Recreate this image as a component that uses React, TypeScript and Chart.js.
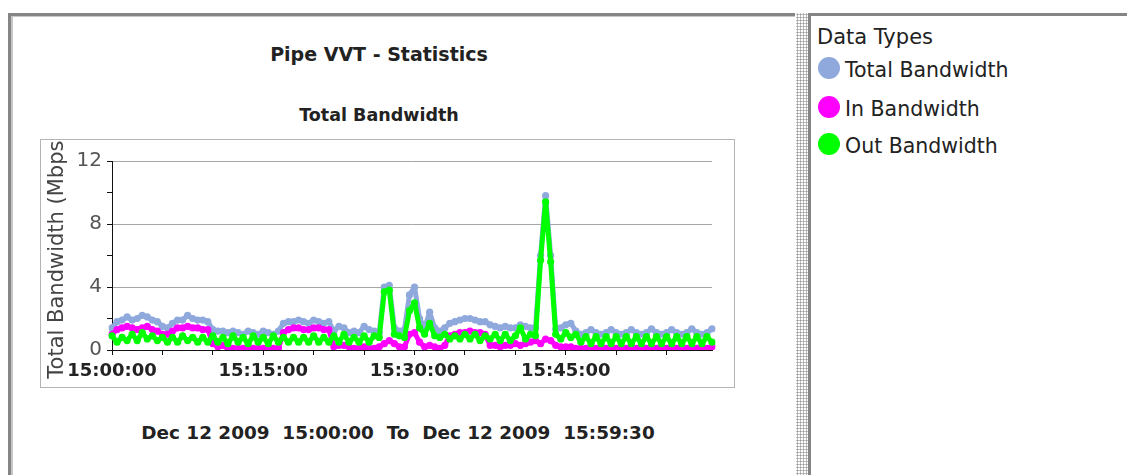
import React, { useEffect, useRef } from 'react';
import { Chart, registerables } from 'chart.js';

Chart.register(...registerables);

const FONT = "'DejaVu Sans', Verdana, sans-serif";

const chartTitle = 'Pipe VVT - Statistics';
const chartSubtitle = 'Total Bandwidth';
const yAxisTitle = 'Total Bandwidth (Mbps)';
const rangeText = 'Dec 12 2009  15:00:00  To  Dec 12 2009  15:59:30';
const legendTitle = 'Data Types';

const seriesNames = ['Total Bandwidth', 'In Bandwidth', 'Out Bandwidth'];
const seriesColors = ['#8fa9dd', '#ff00ff', '#00ff00'];

// 30-second samples, 15:00:00 .. 15:59:30 (Mbps)
const totalBandwidth = [
  1.4, 1.8, 1.9, 2.1, 1.9, 2.0, 2.2, 2.1, 1.9, 1.8,
  1.5, 1.4, 1.7, 1.9, 1.9, 2.2, 2.0, 1.9, 1.9, 1.8,
  1.3, 1.2, 1.2, 1.1, 1.2, 1.1, 1.0, 1.2, 1.1, 1.0,
  1.2, 1.1, 1.0, 1.2, 1.7, 1.8, 1.8, 1.9, 1.8, 1.7,
  1.9, 1.8, 1.7, 1.8, 1.2, 1.5, 1.4, 1.1, 1.2, 1.1,
  1.5, 1.3, 1.2, 1.1, 4.0, 4.1, 1.4, 1.2, 1.3, 3.5,
  4.0, 2.0, 1.4, 2.4, 1.4, 1.2, 1.4, 1.7, 1.8, 1.9,
  2.0, 2.0, 1.9, 1.8, 1.8, 1.6, 1.5, 1.4, 1.5, 1.4,
  1.4, 1.6, 1.5, 1.4, 1.4, 6.0, 9.8, 6.0, 1.3, 1.4,
  1.6, 1.7, 1.2, 1.0, 1.1, 1.3, 1.1, 1.0, 1.1, 1.3,
  1.1, 1.0, 1.1, 1.3, 1.1, 1.0, 1.1, 1.35, 1.1, 1.0,
  1.1, 1.3, 1.1, 1.0, 1.1, 1.35, 1.1, 1.0, 1.1, 1.35,
];

const inBandwidth = [
  1.0, 1.3, 1.4, 1.5, 1.4, 1.3, 1.4, 1.5, 1.3, 1.2,
  1.0, 1.0, 1.2, 1.4, 1.4, 1.5, 1.4, 1.4, 1.3, 1.3,
  0.4, 0.2, 0.3, 0.1, 0.1, 0.1, 0.1, 0.1, 0.1, 0.1,
  0.1, 0.1, 0.1, 0.1, 1.1, 1.3, 1.4, 1.4, 1.3, 1.3,
  1.4, 1.4, 1.3, 1.3, 0.2, 0.3, 0.3, 0.2, 0.1, 0.1,
  0.2, 0.1, 0.1, 0.2, 0.4, 0.6, 0.4, 0.2, 0.2, 1.0,
  1.1, 0.5, 0.2, 0.3, 0.2, 0.1, 0.3, 0.9, 1.0, 1.1,
  1.1, 1.2, 1.1, 1.1, 1.0, 0.3, 0.3, 0.2, 0.3, 0.3,
  0.4, 0.3, 0.4, 0.5, 0.6, 0.4, 0.7, 0.6, 0.3, 0.2,
  0.2, 0.2, 0.1, 0.1, 0.1, 0.1, 0.1, 0.1, 0.1, 0.1,
  0.1, 0.1, 0.1, 0.1, 0.1, 0.1, 0.1, 0.1, 0.1, 0.1,
  0.1, 0.1, 0.1, 0.1, 0.1, 0.1, 0.1, 0.1, 0.1, 0.2,
];

const outBandwidth = [
  0.9, 0.5, 0.8, 0.6, 1.0, 0.6, 1.1, 0.7, 0.9, 0.6,
  0.8, 0.5, 0.8, 0.5, 0.9, 0.6, 0.8, 0.5, 0.8, 0.5,
  0.9, 0.5, 0.8, 0.4, 0.9, 0.5, 0.8, 0.4, 0.9, 0.5,
  0.8, 0.4, 0.9, 0.5, 0.8, 0.5, 0.8, 0.5, 0.8, 0.5,
  0.9, 0.5, 0.8, 0.5, 0.9, 0.5, 1.0, 0.5, 0.8, 0.5,
  0.9, 0.5, 0.9, 0.8, 3.7, 3.8, 1.0, 0.9, 0.8, 2.5,
  3.0, 1.4, 1.0, 1.7, 0.9, 0.8, 1.0, 0.7, 0.9, 0.7,
  1.0, 0.7, 1.0, 0.6, 0.9, 0.7, 1.0, 0.6, 1.0, 0.6,
  0.9, 1.4, 0.7, 1.0, 0.9, 5.7, 9.4, 5.6, 1.0, 0.7,
  1.1, 0.8, 1.0, 0.5, 0.85, 0.4, 0.85, 0.4, 0.85, 0.4,
  0.85, 0.4, 0.85, 0.4, 0.85, 0.4, 0.85, 0.4, 0.85, 0.4,
  0.85, 0.4, 0.85, 0.4, 0.85, 0.4, 0.85, 0.4, 0.85, 0.5,
];

// time-of-day category labels for each 30 s sample
const timeLabels: string[] = totalBandwidth.map((_, i) => {
  const mm = String(Math.floor(i / 2)).padStart(2, '0');
  return `15:${mm}:${i % 2 ? '30' : '00'}`;
});

const xTickEvery = 10; // a tick mark each 5 minutes
const xLabelEvery = 30; // a label each 15 minutes
const yMax = 12;
const yStep = 2;
const yLabelEvery = 4;

function ChartBox() {
  const ref = useRef<HTMLCanvasElement>(null);
  useEffect(() => {
    if (!ref.current) return;
    const series = [totalBandwidth, inBandwidth, outBandwidth];
    const chart = new Chart(ref.current, {
      type: 'line',
      data: {
        labels: timeLabels,
        datasets: series.map((d, i) => ({
          label: seriesNames[i],
          data: d,
          borderColor: seriesColors[i],
          backgroundColor: seriesColors[i],
          pointBackgroundColor: seriesColors[i],
          pointBorderColor: seriesColors[i],
          borderWidth: 5,
          borderJoinStyle: 'round',
          borderCapStyle: 'round',
          pointRadius: 3.6,
          pointBorderWidth: 0,
          pointHoverRadius: 0,
          tension: 0,
          fill: false,
          order: 3 - i,
        })),
      },
      options: {
        animation: false,
        responsive: false,
        events: [],
        layout: { padding: { top: 21, right: 22, left: 0, bottom: 0 } },
        plugins: {
          legend: { display: false },
          title: { display: false },
          tooltip: { enabled: false },
        },
        scales: {
          x: {
            type: 'category',
            offset: false,
            grid: {
              display: true,
              drawOnChartArea: false,
              drawTicks: true,
              tickLength: 5,
              color: 'rgba(0,0,0,0)',
              tickColor: (ctx: any) => (ctx.index % xTickEvery === 0 ? '#111' : 'rgba(0,0,0,0)'),
            },
            border: { display: true, color: '#111', width: 1 },
            ticks: {
              autoSkip: false,
              maxRotation: 0,
              minRotation: 0,
              padding: 6,
              color: '#222',
              font: { family: FONT, size: 18, weight: 'bold' },
              callback: (_v: any, i: number) => (i % xLabelEvery === 0 ? timeLabels[i] : ''),
            },
            afterFit: (s: any) => {
              s.height = 37;
            },
          },
          y: {
            min: 0,
            max: yMax,
            ticks: {
              stepSize: yStep,
              padding: 5,
              color: '#555',
              font: { family: FONT, size: 20 },
              callback: (v: any) => (Number(v) % yLabelEvery === 0 ? String(v) : ''),
            },
            grid: {
              color: (ctx: any) =>
                ctx.tick && ctx.tick.value > 0 && ctx.tick.value % yLabelEvery === 0 ? '#a6a6a6' : 'rgba(0,0,0,0)',
              tickColor: '#111',
              tickLength: 5,
            },
            border: { display: true, color: '#111', width: 1 },
            title: {
              display: true,
              text: yAxisTitle,
              color: '#444',
              font: { family: FONT, size: 21 },
              padding: { top: 4, bottom: 0 },
            },
            afterFit: (s: any) => {
              s.width = 71;
            },
          },
        },
      } as any,
    });
    return () => chart.destroy();
  }, []);
  return <canvas ref={ref} width={693} height={247} style={{ display: 'block', width: 693, height: 247 }} />;
}

const abs = (s: React.CSSProperties): React.CSSProperties => ({ position: 'absolute', ...s });

export default function App() {
  return (
    <div
      style={abs({
        left: 0,
        top: 0,
        width: 1127,
        height: 475,
        overflow: 'hidden',
        background: '#fff',
        fontFamily: FONT,
        color: '#222',
      })}
    >
      {/* left panel frame */}
      <div style={abs({ left: 8, top: 13, width: 787, height: 3, background: '#858585' })} />
      <div style={abs({ left: 11, top: 16, width: 784, height: 1, background: '#c8c8c8' })} />
      <div style={abs({ left: 8, top: 13, width: 3, height: 462, background: '#858585' })} />
      <div style={abs({ left: 11, top: 16, width: 2, height: 459, background: '#c6c6c6' })} />
      {/* splitter */}
      <div
        style={abs({
          left: 796,
          top: 13,
          width: 12,
          height: 462,
          backgroundImage: 'radial-gradient(circle, #9c9c9c 0.9px, rgba(255,255,255,0) 1.2px)',
          backgroundSize: '3px 3px',
        })}
      />
      {/* right panel frame */}
      <div style={abs({ left: 808, top: 13, width: 319, height: 3, background: '#858585' })} />
      <div style={abs({ left: 808, top: 13, width: 3, height: 462, background: '#858585' })} />

      {/* titles */}
      <div style={abs({ left: 179, top: 42, width: 400, textAlign: 'center', fontWeight: 'bold', fontSize: 19, lineHeight: '24px' })}>
        {chartTitle}
      </div>
      <div style={abs({ left: 179, top: 104, width: 400, textAlign: 'center', fontWeight: 'bold', fontSize: 17.5, lineHeight: '22px' })}>
        {chartSubtitle}
      </div>

      {/* plot box */}
      <div style={abs({ left: 40, top: 139, width: 693, height: 247, border: '1px solid #b4b4b4' })}>
        <ChartBox />
      </div>

      <div
        style={abs({
          left: 98,
          top: 422,
          width: 600,
          textAlign: 'center',
          fontWeight: 'bold',
          fontSize: 18.4,
          lineHeight: '22px',
          whiteSpace: 'pre',
        })}
      >
        {rangeText}
      </div>

      {/* legend */}
      <div style={abs({ left: 817, top: 25, fontSize: 21, lineHeight: '24px', whiteSpace: 'nowrap' })}>{legendTitle}</div>
      {seriesNames.map((name, i) => {
        const cy = [68, 107, 144][i];
        return (
          <React.Fragment key={name}>
            <div
              style={abs({
                left: 818,
                top: cy - 11,
                width: 22,
                height: 22,
                borderRadius: '50%',
                background: seriesColors[i],
              })}
            />
            <div style={abs({ left: 845, top: cy - 10, fontSize: 20.5, lineHeight: '24px', whiteSpace: 'nowrap' })}>
              {name}
            </div>
          </React.Fragment>
        );
      })}
    </div>
  );
}
